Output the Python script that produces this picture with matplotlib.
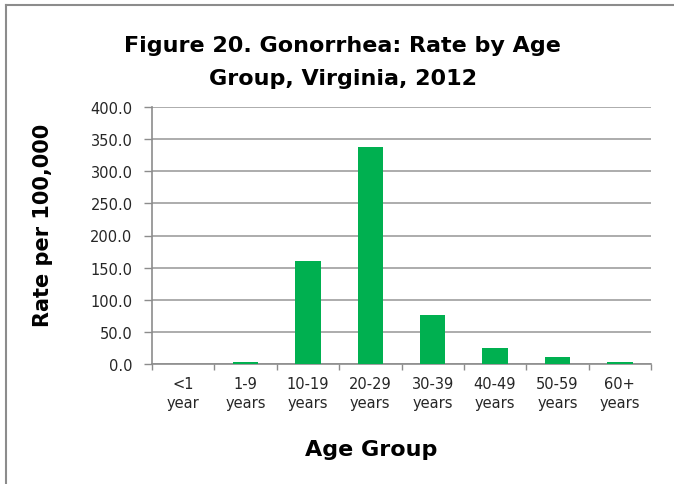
import matplotlib.pyplot as plt
from matplotlib.lines import Line2D
import numpy as np

plt.rcParams["font.family"] = ["DejaVu Sans"]

# Gonorrhea rate per 100,000 by age group, Virginia 2012
age_groups = ["<1\nyear", "1-9\nyears", "10-19\nyears", "20-29\nyears",
              "30-39\nyears", "40-49\nyears", "50-59\nyears", "60+\nyears"]
rates = [0.3, 2.6, 160.8, 338.8, 76.6, 24.4, 10.4, 2.6]
y_ticks = np.arange(0, 401, 50)

BAR_COLOR = "#00B050"
GRID_COLOR = "#A6A6A6"
AXIS_COLOR = "#8C8C8C"
TEXT_COLOR = "#262626"

W, H = 674, 485
fig = plt.figure(figsize=(W / 100, H / 100), dpi=100)
ax = fig.add_axes([152 / W, 1 - 364.7 / H, 499 / W, 256.4 / H])

x = np.arange(len(age_groups))
ax.bar(x, rates, width=0.41, color=BAR_COLOR, zorder=3)

ax.set_xlim(-0.5, len(age_groups) - 0.5)
ax.set_ylim(0, 400)
ax.set_yticks(y_ticks)
ax.set_yticklabels([f"{v:.1f}" for v in y_ticks], fontsize=10.5, color=TEXT_COLOR)
ax.yaxis.grid(True, color=GRID_COLOR, linewidth=1.3, zorder=0)

# category labels centred, tick marks on the boundaries between categories
ax.set_xticks(x)
ax.set_xticklabels(age_groups, fontsize=10.5, color=TEXT_COLOR, linespacing=1.35)
ax.tick_params(axis="x", length=0, pad=9)
ax.set_xticks(np.arange(-0.5, len(age_groups)), minor=True)
ax.tick_params(axis="x", which="minor", length=4, color=AXIS_COLOR, width=1)
ax.tick_params(axis="y", length=6, color=AXIS_COLOR, width=1, pad=8)

for side in ["top", "right"]:
    ax.spines[side].set_visible(False)
for side in ["left", "bottom"]:
    ax.spines[side].set_color(AXIS_COLOR)
    ax.spines[side].set_linewidth(1.2)

title_kw = dict(ha="center", va="baseline", fontsize=16, fontweight="bold")
fig.text(342 / W, 1 - 51.7 / H, "Figure 20. Gonorrhea: Rate by Age", **title_kw)
fig.text(343 / W, 1 - 85 / H, "Group, Virginia, 2012", **title_kw)
fig.text(371.5 / W, 1 - 456 / H, "Age Group", **title_kw)
fig.text(43 / W, 1 - 225.5 / H, "Rate per 100,000", ha="center", va="center",
         rotation=90, fontsize=15, fontweight="bold")

# chart frame, left and top edges
fig.add_artist(Line2D([6 / W, 6 / W], [0, 1 - 6 / H], color="#8C8C8C", linewidth=1.5))
fig.add_artist(Line2D([6 / W, 1], [1 - 6 / H, 1 - 6 / H], color="#8C8C8C", linewidth=1.5))

fig.savefig("out.png", dpi=100)
